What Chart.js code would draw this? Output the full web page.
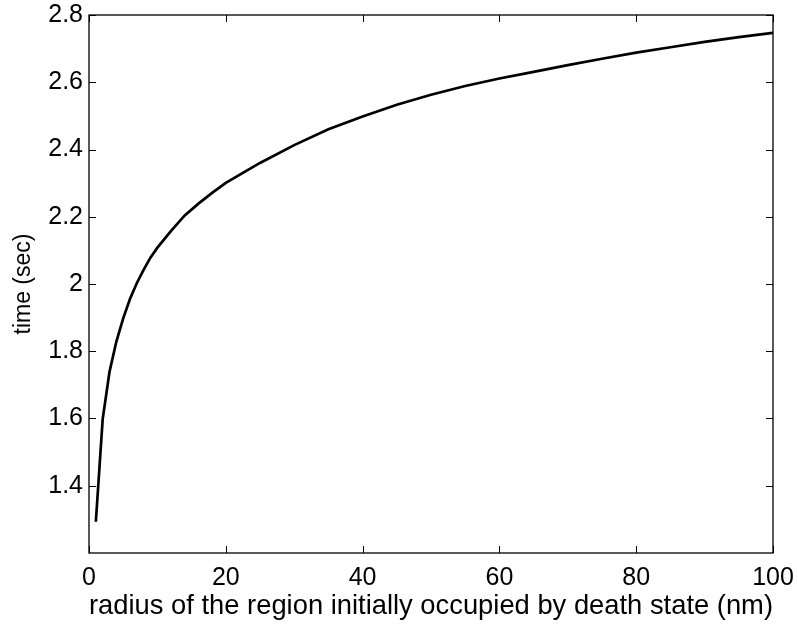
<!DOCTYPE html>
<html>
<head>
<meta charset="utf-8">
<title>time vs radius</title>
<script src="https://cdn.jsdelivr.net/npm/chart.js@4/dist/chart.umd.min.js"></script>
<style>
  html, body { margin: 0; padding: 0; background: #fff; }
  canvas { display: block; }
</style>
</head>
<body>
<canvas id="chart" width="798" height="624"></canvas>
<script>
// radius (nm) and time (sec)
const radius = [1, 2, 3, 4, 5, 6, 7, 8, 9, 10, 12, 14, 16, 18, 20, 25, 30, 35, 40, 45, 50, 55, 60, 65, 70, 75, 80, 85, 90, 95, 100];
const timeSec = [1.293, 1.598, 1.739, 1.829, 1.898, 1.956, 2.003, 2.043, 2.079, 2.108, 2.158, 2.204, 2.239, 2.271, 2.301, 2.360, 2.413, 2.460, 2.498, 2.533, 2.563, 2.589, 2.611, 2.631, 2.651, 2.670, 2.688, 2.704, 2.720, 2.734, 2.747];
const xTicks = [0, 20, 40, 60, 80, 100];
const yTicks = [1.4, 1.6, 1.8, 2, 2.2, 2.4, 2.6, 2.8];

const FONT = '"Liberation Sans", Helvetica, Arial, sans-serif';

// axes box with inward ticks on all four sides
const boxPlugin = {
    id: 'boxPlugin',
    afterDraw(chart) {
        const { ctx, chartArea: a, scales } = chart;
        const len = 7;
        ctx.save();
        ctx.strokeStyle = '#000';
        ctx.lineWidth = 1.3;
        ctx.strokeRect(a.left, a.top, a.right - a.left, a.bottom - a.top);
        ctx.beginPath();
        xTicks.forEach(v => {
            const px = Math.round(scales.x.getPixelForValue(v)) + 0.5;
            ctx.moveTo(px, a.bottom); ctx.lineTo(px, a.bottom - len);
            ctx.moveTo(px, a.top); ctx.lineTo(px, a.top + len);
        });
        yTicks.forEach(v => {
            const py = Math.round(scales.y.getPixelForValue(v)) + 0.5;
            ctx.moveTo(a.left, py); ctx.lineTo(a.left + len, py);
            ctx.moveTo(a.right, py); ctx.lineTo(a.right - len, py);
        });
        ctx.lineWidth = 1;
        ctx.stroke();
        ctx.restore();
    }
};

new Chart(document.getElementById('chart'), {
    type: 'line',
    data: {
        datasets: [{
            data: radius.map((r, i) => ({ x: r, y: timeSec[i] })),
            borderColor: '#000',
            borderWidth: 2.7,
            pointRadius: 0,
            tension: 0,
            fill: false
        }]
    },
    options: {
        responsive: false,
        animation: false,
        layout: { padding: { top: 15, right: 25, left: 0, bottom: 0 } },
        plugins: { legend: { display: false }, tooltip: { enabled: false } },
        scales: {
            x: {
                type: 'linear',
                min: 0,
                max: 100,
                afterBuildTicks: s => { s.ticks = xTicks.map(v => ({ value: v })); },
                afterFit: s => {
                    s.height = 71;
                    s.paddingLeft = 0;
                    s.paddingRight = 0;
                },
                grid: { display: false, drawTicks: false },
                border: { display: false },
                ticks: {
                    color: '#000', padding: 10, maxRotation: 0,
                    font: { family: FONT, size: 25 },
                    callback: v => String(v)
                },
                title: {
                    display: true,
                    text: 'radius of the region initially occupied by death state (nm)',
                    color: '#000',
                    padding: { top: 0, bottom: 1 },
                    font: { family: FONT, size: 28 }
                }
            },
            y: {
                min: 1.2,
                max: 2.8,
                afterBuildTicks: s => { s.ticks = yTicks.map(v => ({ value: v })); },
                afterFit: s => {
                    s.width = 89;
                    s.paddingTop = 0;
                    s.paddingBottom = 0;
                },
                grid: { display: false, drawTicks: false },
                border: { display: false },
                ticks: {
                    color: '#000', padding: 6,
                    font: { family: FONT, size: 25 },
                    callback: v => String(+v.toFixed(1))
                },
                title: {
                    display: true,
                    text: 'time (sec)',
                    color: '#000',
                    padding: { top: 10, bottom: 0 },
                    font: { family: FONT, size: 23 }
                }
            }
        }
    },
    plugins: [boxPlugin]
});
</script>
</body>
</html>
